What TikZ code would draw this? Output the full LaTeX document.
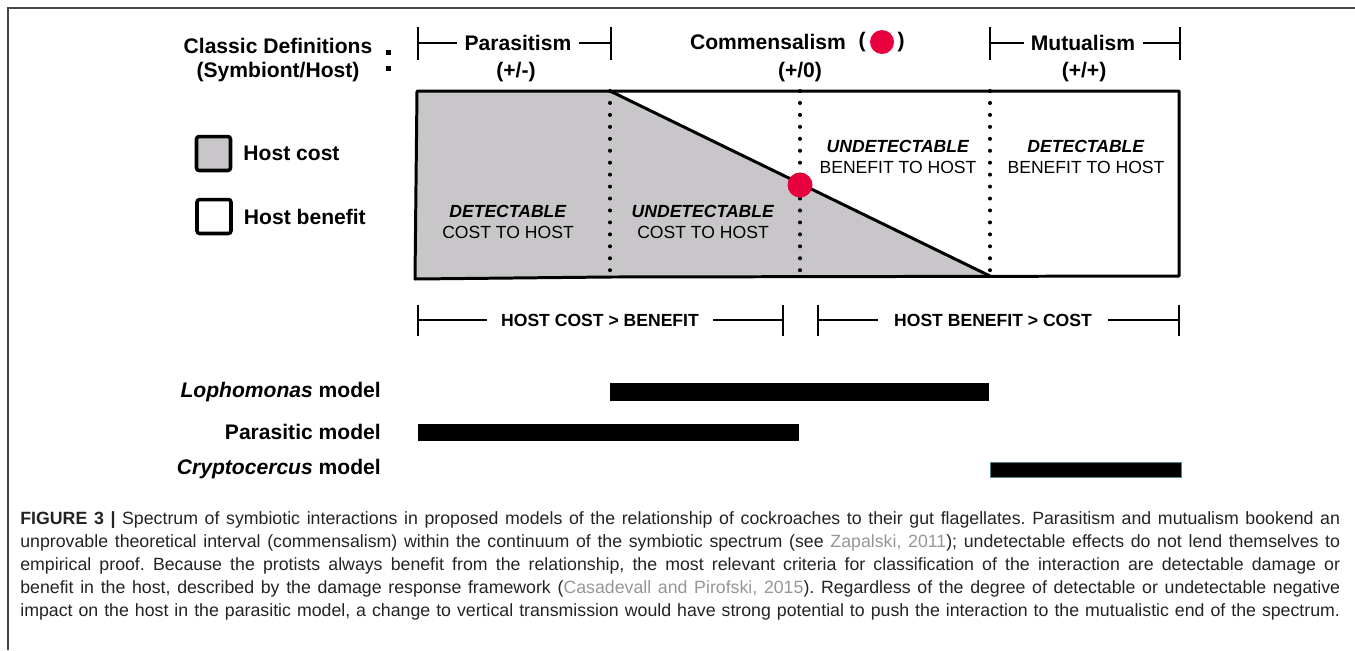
\documentclass[tikz,border=0pt]{standalone}
\usepackage{fontspec}
\setmainfont{Liberation Sans}
\usepackage{xcolor}
\usetikzlibrary{positioning}

\definecolor{hostgray}{RGB}{200,198,201}
\definecolor{dotred}{RGB}{232,0,62}
\definecolor{citegray}{RGB}{150,150,150}
\definecolor{framegray}{RGB}{70,70,70}
\definecolor{captext}{RGB}{35,35,35}
\definecolor{barteal}{RGB}{80,130,140}

\frenchspacing

\tikzset{
  hdr/.style={font=\bfseries\fontsize{12}{14}\selectfont},
  zone/.style={font=\fontsize{10}{11.9}\selectfont, align=center},
  span/.style={font=\bfseries\fontsize{10}{12}\selectfont, inner xsep=8pt},
  tick/.style={line width=1.4pt},
  divider/.style={line width=2.3pt, line cap=round, dash pattern=on 0pt off 6.8pt},
  legbox/.style={draw, line width=2pt, rounded corners=1.5pt, minimum size=0.68cm, inner sep=0pt},
  model/.style={font=\bfseries\fontsize{12}{14}\selectfont, anchor=east},
  bar/.style={fill=black},
  captxt/.style={font=\fontsize{10.1}{12}\selectfont, text=captext, anchor=base west, inner sep=0pt}
}

\begin{document}
\begin{tikzpicture}[x=0.02cm, y=-0.02cm]
    \useasboundingbox (0,0) rectangle (1355,650);
    % outer frame
    \draw[framegray, line width=1.1pt] (8,650) -- (8,8) -- (1355,8);

    % header row
    \node[hdr] (classic) at (278,46) {Classic Definitions};
    \node[hdr] (symb) at (278,72) {(Symbiont/Host)};
    \fill (385.5,49.5) rectangle +(5,5);
    \fill (385.5,65.5) rectangle +(5,5);

    \node[hdr, inner xsep=4pt] (par) at (518,43) {Parasitism};
    \node[hdr] (parsign) at (516,72) {(+/-)};
    \coordinate (parL) at (418,43);
    \coordinate (parR) at (611,43);
    \draw[tick] (418,27) -- (418,60);
    \draw[tick] (611,27) -- (611,60);
    \draw[tick] (parL) -- (par);
    \draw[tick] (par) -- (parR);

    \node[hdr] (comm) at (768,42) {Commensalism};
    \node[hdr] (lpar) at (862,42) {(};
    \fill[dotred] (882,42) circle (0.24cm);
    \node[hdr] (rpar) at (901,42) {)};
    \node[hdr] (comsign) at (800,72) {(+/0)};

    \node[hdr, inner xsep=4pt] (mut) at (1083,43) {Mutualism};
    \node[hdr] (mutsign) at (1084,72) {(+/+)};
    \coordinate (mutL) at (990,43);
    \coordinate (mutR) at (1180,43);
    \draw[tick] (990,27) -- (990,60);
    \draw[tick] (1180,27) -- (1180,60);
    \draw[tick] (mutL) -- (mut);
    \draw[tick] (mut) -- (mutR);

    % spectrum box
    \fill[hostgray] (417,91) -- (610,91) -- (990,276) -- (610,277) -- (415,279) -- cycle;
    \draw[line width=1.7pt, line join=round] (417,91) -- (1179,91) -- (1179,276) -- (610,277) -- (415,279) -- cycle;
    \draw[line width=1.7pt] (610,91) -- (990,276);
    \draw[divider] (610,91) -- (610,277);
    \draw[divider] (800,91) -- (800,277);
    \draw[divider] (990,91) -- (990,276);
    \fill[dotred] (800,185) circle (0.25cm);

    \node[zone] (detcost) at (508,222) {\textbf{\textit{DETECTABLE}}\\COST TO HOST};
    \node[zone] (undetcost) at (703,222) {\textbf{\textit{UNDETECTABLE}}\\COST TO HOST};
    \node[zone] (undetben) at (898,157) {\textbf{\textit{UNDETECTABLE}}\\BENEFIT TO HOST};
    \node[zone] (detben) at (1086,157) {\textbf{\textit{DETECTABLE}}\\BENEFIT TO HOST};

    % legend
    \node[legbox, fill=hostgray] (costbox) at (213.5,153.5) {};
    \node[hdr, right=0.1cm of costbox] (costlbl) {Host cost};
    \node[legbox, fill=white] (benbox) at (214,216.5) {};
    \node[hdr, right=0.1cm of benbox] (benlbl) {Host benefit};

    % cost / benefit spans
    \node[span] (hcost) at (600,320) {HOST COST > BENEFIT};
    \coordinate (hcL) at (418,320);
    \coordinate (hcR) at (783,320);
    \draw[tick] (418,305) -- (418,336);
    \draw[tick] (783,305) -- (783,336);
    \draw[tick] (hcL) -- (hcost);
    \draw[tick] (hcost) -- (hcR);

    \node[span, inner xsep=9pt] (hben) at (993,320) {HOST BENEFIT > COST};
    \coordinate (hbL) at (818,320);
    \coordinate (hbR) at (1179,320);
    \draw[tick] (818,305) -- (818,336);
    \draw[tick] (1179,305) -- (1179,336);
    \draw[tick] (hbL) -- (hben);
    \draw[tick] (hben) -- (hbR);

    % models
    \node[model] (lopho) at (387,392) {\textit{Lophomonas} model};
    \node[model] (parasitic) at (387,432) {Parasitic model};
    \node[model] (crypto) at (387,469) {\textit{Cryptocercus} model};
    \fill[bar] (610,383) rectangle (989,401);
    \fill[bar] (418,424) rectangle (799,441);
    \filldraw[bar, draw=barteal, line width=0.4pt] (990,462) rectangle (1181,477);

    % caption
    \node[captxt] (cap1) at (20,524) {\makebox[26.4cm][s]{\textbf{FIGURE 3 |} Spectrum of symbiotic interactions in proposed models of the relationship of cockroaches to their gut flagellates. Parasitism and mutualism bookend an}};
    \node[captxt] (cap2) at (20,547.2) {\makebox[26.4cm][s]{unprovable theoretical interval (commensalism) within the continuum of the symbiotic spectrum (see \textcolor{citegray}{Zapalski, 2011}); undetectable effects do not lend themselves to}};
    \node[captxt] (cap3) at (20,570.4) {\makebox[26.4cm][s]{empirical proof. Because the protists always benefit from the relationship, the most relevant criteria for classification of the interaction are detectable damage or}};
    \node[captxt] (cap4) at (20,593.6) {\makebox[26.4cm][s]{benefit in the host, described by the damage response framework (\textcolor{citegray}{Casadevall and Pirofski, 2015}). Regardless of the degree of detectable or undetectable negative}};
    \node[captxt] (cap5) at (20,616.8) {\makebox[26.4cm][s]{impact on the host in the parasitic model, a change to vertical transmission would have strong potential to push the interaction to the mutualistic end of the spectrum.}};
\end{tikzpicture}
\end{document}
